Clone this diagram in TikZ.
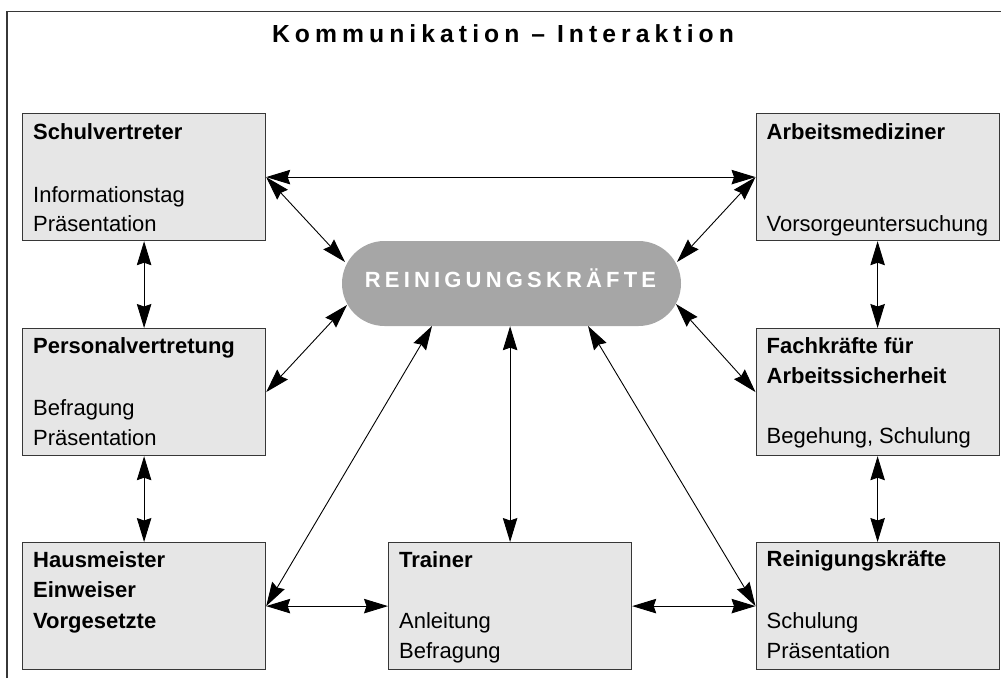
\documentclass[tikz,border=0pt]{standalone}
\usepackage{fontspec}
\setmainfont{Liberation Sans}
\usetikzlibrary{arrows.meta}
\definecolor{boxfill}{RGB}{230,230,230}
\definecolor{boxline}{RGB}{55,55,55}
\definecolor{pillgray}{RGB}{166,166,166}
\begin{document}
\begin{tikzpicture}[x=1pt,y=-1pt,
  box/.style={rectangle, draw=boxline, fill=boxfill, line width=1.2pt,
    minimum width=243pt, minimum height=127pt, inner sep=0pt, anchor=north west},
  pillshape/.style={rectangle, fill=pillgray, rounded corners=42.5pt,
    minimum width=339pt, minimum height=85pt, inner sep=0pt},
  lbl/.style={anchor=base west, inner sep=0pt, font=\fontsize{22}{26}\selectfont},
  hd/.style={anchor=base west, inner sep=0pt, font=\fontsize{22}{26}\selectfont\bfseries},
  link/.style={{Stealth[length=24pt,width=14.5pt,inset=2.5pt]}-{Stealth[length=24pt,width=14.5pt,inset=2.5pt]},
    line width=0.9pt, black}
]
\useasboundingbox (0,0) rectangle (1001,678);
\draw[line width=1.2pt, boxline] (7,678) -- (7,11.5) -- (1001,11.5);

\node[anchor=base, inner sep=0pt,
  font=\fontsize{24.7}{28}\selectfont\bfseries\addfontfeature{LetterSpace=20.5}]
  (title) at (503,42.7) {Kommunikation – Interaktion};

% boxes
\node[box] (sv) at (22,113) {};
\node[box] (am) at (755.5,113) {};
\node[box] (pv) at (22,328) {};
\node[box] (fk) at (755.5,328) {};
\node[box] (hm) at (22,542) {};
\node[box] (tr) at (388,542) {};
\node[box] (rk) at (755.5,542) {};

\node[pillshape] (pill) at (511.5,283.5) {};
\node[anchor=base, inner sep=0pt, text=white,
  font=\fontsize{22}{26}\selectfont\bfseries\addfontfeature{LetterSpace=19}]
  (pilltext) at (510.5,287.7) {REINIGUNGSKRÄFTE};

% texts
\node[hd]  at ([shift={(11,26)}]sv.north west) {Schulvertreter};
\node[lbl] at ([shift={(11,89)}]sv.north west) {Informationstag};
\node[lbl] at ([shift={(11,118.5)}]sv.north west) {Präsentation};

\node[hd]  at ([shift={(11,26)}]am.north west) {Arbeitsmediziner};
\node[lbl] at ([shift={(11,118.5)}]am.north west) {Vorsorgeuntersuchung};

\node[hd]  at ([shift={(11,25.5)}]pv.north west) {Personalvertretung};
\node[lbl] at ([shift={(11,87)}]pv.north west) {Befragung};
\node[lbl] at ([shift={(11,117)}]pv.north west) {Präsentation};

\node[hd]  at ([shift={(11,25.5)}]fk.north west) {Fachkräfte für};
\node[hd]  at ([shift={(11,55.5)}]fk.north west) {Arbeitssicherheit};
\node[lbl] at ([shift={(11,115.5)}]fk.north west) {Begehung, Schulung};

\node[hd]  at ([shift={(11,25)}]hm.north west) {Hausmeister};
\node[hd]  at ([shift={(11,55.5)}]hm.north west) {Einweiser};
\node[hd]  at ([shift={(11,86.5)}]hm.north west) {Vorgesetzte};

\node[hd]  at ([shift={(11,25)}]tr.north west) {Trainer};
\node[lbl] at ([shift={(11,86.5)}]tr.north west) {Anleitung};
\node[lbl] at ([shift={(11,116.5)}]tr.north west) {Befragung};

\node[hd]  at ([shift={(11,24.5)}]rk.north west) {Reinigungskräfte};
\node[lbl] at ([shift={(11,86)}]rk.north west) {Schulung};
\node[lbl] at ([shift={(11,116)}]rk.north west) {Präsentation};

% attachment points on the pill
\coordinate (pA) at (345,262);
\coordinate (pB) at (347,305);
\coordinate (pC) at (432,326);
\coordinate (pD) at (tr.north |- pill.south);
\coordinate (pE) at (588,326);
\coordinate (pF) at (677,262);
\coordinate (pG) at (676,304);

% connectors
\draw[link] (sv.east) -- (am.west);
\draw[link] (sv.east) -- (pA);
\draw[link] (pv.east) -- (pB);
\draw[link] (hm.east) -- (pC);
\draw[link] (hm.east) -- (tr.west);
\draw[link] (tr.north) -- (pD);
\draw[link] (rk.west) -- (pE);
\draw[link] (tr.east) -- (rk.west);
\draw[link] (am.west) -- (pF);
\draw[link] (fk.west) -- (pG);
\draw[link] (sv.south) -- (pv.north);
\draw[link] (pv.south) -- (hm.north);
\draw[link] (am.south) -- (fk.north);
\draw[link] (fk.south) -- (rk.north);
\end{tikzpicture}
\end{document}
